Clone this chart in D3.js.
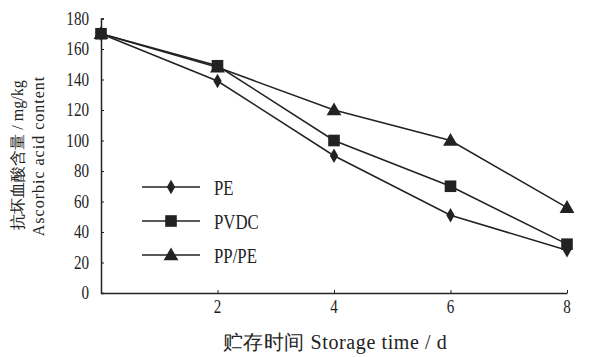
<!DOCTYPE html>
<html>
<head>
<meta charset="utf-8">
<script src="https://cdn.jsdelivr.net/npm/d3@7"></script>
<style>
  body { margin: 0; background: #fff; }
  text { font-family: "Liberation Serif", "DejaVu Serif", serif; fill: #222; }
</style>
</head>
<body>
<svg id="chart" width="603" height="357"></svg>
<script>
// data
const days = [0, 2, 4, 6, 8];
const pe   = [170, 139, 90, 51, 28];
const pvdc = [170, 149, 100, 70, 32];
const pppe = [170, 148, 120, 100, 56];
const seriesNames = ["PE", "PVDC", "PP/PE"];
const yTicks = [0, 20, 40, 60, 80, 100, 120, 140, 160, 180];
const xTicks = [2, 4, 6, 8];

const svg = d3.select("#chart");
const ink = "#222";
const squeeze = 0.84; // the print font is narrow

const x = d3.scaleLinear().domain([0, 8]).range([101, 567]);
const y = d3.scaleLinear().domain([0, 180]).range([293, 18.5]);

// axes (ticks point inward)
svg.append("g")
  .attr("transform", "translate(" + x(0) + ",0)")
  .call(d3.axisRight(y).tickValues(yTicks).tickSize(3).tickFormat(""))
  .call(g => g.select(".domain").attr("stroke", ink).attr("stroke-width", 1.5));

svg.append("g")
  .attr("transform", "translate(0," + y(0) + ")")
  .call(d3.axisTop(x).tickValues(xTicks).tickSize(3).tickFormat("").tickSizeOuter(0))
  .call(g => g.select(".domain").attr("stroke", ink).attr("stroke-width", 1.5));

svg.selectAll("line").attr("stroke", ink);

// tick labels
svg.append("g").selectAll("text")
  .data(yTicks).enter().append("text")
  .attr("transform", d => "translate(89," + (y(d) + 6) + ") scale(" + squeeze + ",1)")
  .attr("text-anchor", "end")
  .style("font-size", "18px")
  .text(d => d);

svg.append("g").selectAll("text")
  .data(xTicks).enter().append("text")
  .attr("transform", d => "translate(" + x(d) + ",313) scale(" + squeeze + ",1)")
  .attr("text-anchor", "middle")
  .style("font-size", "18px")
  .text(d => d);

// axis titles
svg.append("text")
  .attr("transform", "translate(23,155) rotate(-90)")
  .attr("text-anchor", "middle")
  .style("font-size", "16px")
  .text("抗坏血酸含量 / mg/kg");
svg.append("text")
  .attr("transform", "translate(44,156) rotate(-90)")
  .attr("text-anchor", "middle")
  .style("font-size", "16px")
  .style("letter-spacing", "1px")
  .text("Ascorbic acid content");

svg.append("text")
  .attr("x", 335).attr("y", 349)
  .attr("text-anchor", "middle")
  .style("font-size", "20px")
  .style("letter-spacing", "0.6px")
  .text("贮存时间 Storage time / d");

// markers
const marker = {
  "PE": d3.symbol().type(d3.symbolDiamond).size(60),
  "PVDC": d3.symbol().type(d3.symbolSquare).size(135),
  "PP/PE": d3.symbol().type(d3.symbolTriangle).size(95)
};

const allSeries = [pe, pvdc, pppe];
const line = d3.line().x((d, i) => x(days[i])).y(d => y(d));

allSeries.forEach((vals, k) => {
  svg.append("path")
    .attr("d", line(vals))
    .attr("fill", "none")
    .attr("stroke", ink)
    .attr("stroke-width", 1.5);
});

allSeries.forEach((vals, k) => {
  svg.append("g").selectAll("path")
    .data(vals).enter().append("path")
    .attr("d", marker[seriesNames[k]]())
    .attr("transform", (d, i) => "translate(" + x(days[i]) + "," + (y(d) + (k == 2 ? 1 : 0)) + ")")
    .attr("fill", ink);
});

// legend
const legend = svg.append("g");
seriesNames.forEach((name, k) => {
  const ly = 187 + k * 34;
  legend.append("line")
    .attr("x1", 142).attr("x2", 200).attr("y1", ly).attr("y2", ly)
    .attr("stroke", ink).attr("stroke-width", 1.5);
  legend.append("path")
    .attr("d", marker[name]())
    .attr("transform", "translate(171," + (ly + (k == 2 ? 1 : 0)) + ")")
    .attr("fill", ink);
  legend.append("text")
    .attr("transform", "translate(214," + (ly + 8) + ") scale(" + squeeze + ",1)")
    .style("font-size", "20px")
    .text(name);
});
</script>
</body>
</html>
